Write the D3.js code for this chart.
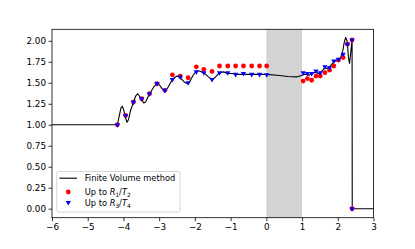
<!DOCTYPE html>
<html>
<head>
<meta charset="utf-8">
<script src="https://cdn.jsdelivr.net/npm/d3@7"></script>
<style>
  html, body { margin: 0; padding: 0; background: #fff; }
  svg { display: block; font-family: "DejaVu Sans", sans-serif; }
</style>
</head>
<body>
<svg id="chart" width="415" height="249"></svg>
<script>
// ---- data ----
const xTicks = [-6, -5, -4, -3, -2, -1, 0, 1, 2, 3];
const yTicks = [0, 0.25, 0.5, 0.75, 1.0, 1.25, 1.5, 1.75, 2.0];
const shadedBand = [0, 1];

const fvX = [-6, -4.2, -4.17, -4.12, -4.07, -4.03, -3.99, -3.94, -3.9, -3.86, -3.8, -3.72, -3.66, -3.6, -3.55, -3.49, -3.43, -3.38, -3.27, -3.15, -3.06, -3.0, -2.92, -2.84, -2.76, -2.67, -2.58, -2.5, -2.41, -2.3, -2.22, -2.15, -2.05, -1.96, -1.88, -1.75, -1.62, -1.52, -1.44, -1.31, -1.2, -1.08, -0.95, -0.86, -0.64, -0.41, -0.19, 0.0, 0.3, 0.6, 0.85, 1.0, 1.05, 1.12, 1.2, 1.27, 1.33, 1.39, 1.45, 1.52, 1.58, 1.64, 1.7, 1.77, 1.83, 1.89, 1.95, 2.02, 2.08, 2.14, 2.18, 2.22, 2.26, 2.3, 2.33, 2.36, 2.4, 2.405, 3.0];
const fvY = [1.0, 1.0, 1.0, 1.1, 1.2, 1.22, 1.17, 1.08, 1.03, 1.06, 1.17, 1.27, 1.34, 1.37, 1.34, 1.3, 1.26, 1.27, 1.37, 1.45, 1.49, 1.48, 1.43, 1.4, 1.44, 1.51, 1.56, 1.58, 1.56, 1.51, 1.49, 1.51, 1.59, 1.64, 1.64, 1.62, 1.57, 1.54, 1.56, 1.62, 1.63, 1.61, 1.61, 1.6, 1.6, 1.6, 1.6, 1.6, 1.59, 1.575, 1.57, 1.59, 1.6, 1.6, 1.59, 1.61, 1.62, 1.63, 1.61, 1.62, 1.65, 1.68, 1.67, 1.69, 1.72, 1.75, 1.76, 1.78, 1.8, 1.88, 1.98, 2.04, 2.0, 1.8, 1.73, 1.85, 2.01, 0.0, 0.0];

const ptX = [-4.17, -3.94, -3.72, -3.49, -3.27, -3.06, -2.84, -2.63, -2.41, -2.19, -1.96, -1.75, -1.52, -1.31, -1.08, -0.86, -0.64, -0.41, -0.19, 0.01, 1.03, 1.15, 1.27, 1.39, 1.51, 1.64, 1.77, 1.89, 2.02, 2.15, 2.27, 2.4, 2.4];
const r1t2Y = [1.0, 1.11, 1.27, 1.31, 1.37, 1.49, 1.41, 1.595, 1.58, 1.56, 1.69, 1.66, 1.635, 1.7, 1.7, 1.7, 1.7, 1.7, 1.7, 1.7, 1.52, 1.55, 1.53, 1.58, 1.58, 1.62, 1.65, 1.7, 1.77, 1.8, 1.96, 2.01, 0.0];
const r3t4Y = [1.0, 1.11, 1.27, 1.31, 1.37, 1.49, 1.41, 1.54, 1.57, 1.5, 1.63, 1.62, 1.54, 1.62, 1.62, 1.6, 1.61, 1.6, 1.6, 1.595, 1.62, 1.61, 1.61, 1.64, 1.62, 1.69, 1.68, 1.76, 1.78, 1.84, 1.96, 2.01, 0.0];

const legendLabels = ["Finite Volume method", ["Up to ", "R", "1", "/", "T", "2"], ["Up to ", "R", "3", "/", "T", "4"]];

// ---- layout ----
const m = { left: 52, right: 373.5, top: 29.3, bottom: 217.7 };
const svg = d3.select("#chart");

const x = d3.scaleLinear().domain([-6, 3]).range([m.left, m.right]);
const y = d3.scaleLinear().domain([-0.107, 2.137]).range([m.bottom, m.top]);

// shaded band
svg.append("rect")
  .attr("x", x(shadedBand[0])).attr("y", m.top)
  .attr("width", x(shadedBand[1]) - x(shadedBand[0]))
  .attr("height", m.bottom - m.top)
  .attr("fill", "#d3d3d3");

// line
const fv = fvX.map((d, i) => [d, fvY[i]]);
svg.append("path")
  .datum(fv)
  .attr("fill", "none")
  .attr("stroke", "#000")
  .attr("stroke-width", 1.1)
  .attr("stroke-linejoin", "round")
  .attr("d", d3.line().x(d => x(d[0])).y(d => y(d[1])));

// red circles
svg.append("g").selectAll("circle")
  .data(ptX.map((d, i) => [d, r1t2Y[i]]))
  .join("circle")
  .attr("cx", d => x(d[0])).attr("cy", d => y(d[1]))
  .attr("r", 2.4).attr("fill", "#ff0000");

// blue triangles (down)
const tri = d3.symbol().type(d3.symbolTriangle).size(12);
svg.append("g").selectAll("path")
  .data(ptX.map((d, i) => [d, r3t4Y[i]]))
  .join("path")
  .attr("d", tri)
  .attr("transform", d => `translate(${x(d[0])},${y(d[1])}) rotate(180)`)
  .attr("fill", "#0000ff");

// axes
const fmtY = d3.format(".2f");
const xAxis = svg.append("g")
  .attr("transform", `translate(0,${m.bottom})`)
  .call(d3.axisBottom(x).tickValues(xTicks).tickSize(3.5).tickPadding(2.5).tickFormat(d3.format("d")));
const yAxis = svg.append("g")
  .attr("transform", `translate(${m.left},0)`)
  .call(d3.axisLeft(y).tickValues(yTicks).tickSize(3.5).tickPadding(2.5).tickFormat(fmtY));
[xAxis, yAxis].forEach(g => {
  g.select(".domain").remove();
  g.selectAll("line").attr("stroke", "#000").attr("stroke-width", 0.8);
  g.selectAll("text").attr("fill", "#000").attr("font-size", 8.8).attr("font-family", "DejaVu Sans");
});

// frame
svg.append("rect")
  .attr("x", m.left).attr("y", m.top)
  .attr("width", m.right - m.left).attr("height", m.bottom - m.top)
  .attr("fill", "none").attr("stroke", "#000").attr("stroke-width", 0.8);

// legend
const lg = svg.append("g");
lg.append("rect")
  .attr("x", 56.7).attr("y", 171.5).attr("width", 123.3).attr("height", 40.5)
  .attr("rx", 2).attr("fill", "#fff").attr("fill-opacity", 0.8)
  .attr("stroke", "#cccccc").attr("stroke-width", 0.8);
lg.append("line").attr("x1", 59.5).attr("x2", 77).attr("y1", 178.2).attr("y2", 178.2)
  .attr("stroke", "#000").attr("stroke-width", 1.1);
lg.append("circle").attr("cx", 68.3).attr("cy", 192).attr("r", 2.4).attr("fill", "#ff0000");
lg.append("path").attr("d", tri).attr("transform", "translate(68.3,202.5) rotate(180)").attr("fill", "#0000ff");

const fs = 8.3;
lg.append("text").attr("x", 84.7).attr("y", 181.2).attr("font-size", fs).text(legendLabels[0]);
[[1, 195.2], [2, 206.2]].forEach(([k, yy]) => {
  const parts = legendLabels[k];
  const t = lg.append("text").attr("x", 84.7).attr("y", yy).attr("font-size", fs);
  t.append("tspan").text(parts[0]);
  t.append("tspan").attr("font-style", "italic").text(parts[1]);
  t.append("tspan").attr("font-size", fs * 0.7).attr("dy", 1.6).text(parts[2]);
  t.append("tspan").attr("dy", -1.6).text(parts[3]);
  t.append("tspan").attr("font-style", "italic").text(parts[4]);
  t.append("tspan").attr("font-size", fs * 0.7).attr("dy", 1.6).text(parts[5]);
});
</script>
</body>
</html>
